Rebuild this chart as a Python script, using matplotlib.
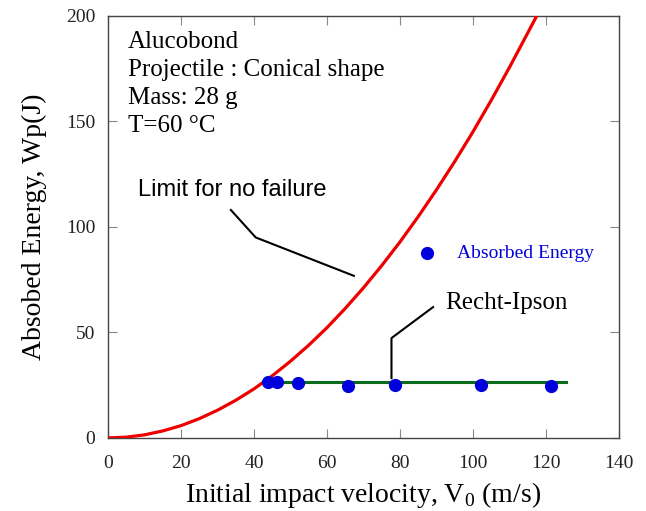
import numpy as np
import matplotlib
matplotlib.use('Agg')
import matplotlib.pyplot as plt

plt.rcParams['font.family'] = ['Liberation Serif', 'DejaVu Serif']
plt.rcParams['mathtext.fontset'] = 'custom'
plt.rcParams['mathtext.rm'] = 'Liberation Serif'

# limit for no failure (red curve)
limit_v = [0, 5, 10, 15, 20, 25, 30, 35, 40, 45, 50, 55, 60, 65, 70, 75, 80,
           85, 90, 95, 100, 105, 110, 115, 117.5]
limit_w = [0, 0.36, 1.45, 3.3, 5.8, 9.1, 13.1, 17.8, 23.2, 29.4, 36.3, 43.9,
           52.2, 61.3, 71.1, 81.6, 92.8, 104.8, 117.5, 130.9, 145.0, 159.9,
           175.5, 191.8, 200.0]

# measured absorbed energy
meas_v = [43.9, 46.2, 52.1, 65.7, 78.6, 102.2, 121.5]
meas_w = [26.4, 26.4, 26.2, 24.6, 25.1, 25.0, 24.8]

# Recht-Ipson level
ri_v = [43.0, 125.5]
ri_w = [26.5, 26.5]

fig = plt.figure(figsize=(6.46, 5.11), dpi=100)
ax = fig.add_axes([0.167, 0.143, 0.791, 0.826])

ax.plot(limit_v, limit_w, color='#ee0000', lw=2.3, zorder=3, clip_on=True)
ax.plot(ri_v, ri_w, color='#0b6a1c', lw=2.2, zorder=2)
ax.plot(meas_v, meas_w, 'o', color='#0000dd', ms=8.5, zorder=4)

# legend-like marker and label
ax.plot([87.3], [87.5], 'o', color='#0000dd', ms=8.5)
ax.text(95.6, 87.5, 'Absorbed Energy', color='#0000dd', fontsize=14,
        va='center', ha='left')

# annotations
ax.text(8.2, 117.5, 'Limit for no failure', fontsize=17,
        family=['Liberation Sans', 'DejaVu Sans'], va='center', ha='left')
ax.plot([33.7, 40.5, 67.4], [108, 95, 76.8], color='black', lw=1.5)

ax.text(92.5, 64, 'Recht-Ipson', fontsize=18, va='center', ha='left')
ax.plot([89.1, 77.7, 77.7], [62, 47.3, 28.3], color='black', lw=1.5)

ax.text(5.5, 193, 'Alucobond\nProjectile : Conical shape\nMass: 28 g\nT=60 \u00b0C',
        fontsize=18, va='top', ha='left', linespacing=1.36)

ax.set_xlim(0, 140)
ax.set_ylim(0, 200)
ax.set_xticks(np.arange(0, 141, 20))
ax.set_yticks(np.arange(0, 201, 50))
ax.tick_params(direction='in', top=True, right=True, length=6.5, width=0.8,
               labelsize=14, colors='#888888', labelcolor='#222222')
ax.tick_params(axis='x', pad=12)
ax.tick_params(axis='y', pad=9)
for s in ax.spines.values():
    s.set_color('#444444')
    s.set_linewidth(1.0)

ax.set_xlabel('Initial impact velocity, V$_0$ (m/s)', fontsize=20, labelpad=6)
ax.set_ylabel('Absobed Energy, Wp(J)', fontsize=20, labelpad=14)

fig.savefig('out.png', dpi=100, facecolor='white')
